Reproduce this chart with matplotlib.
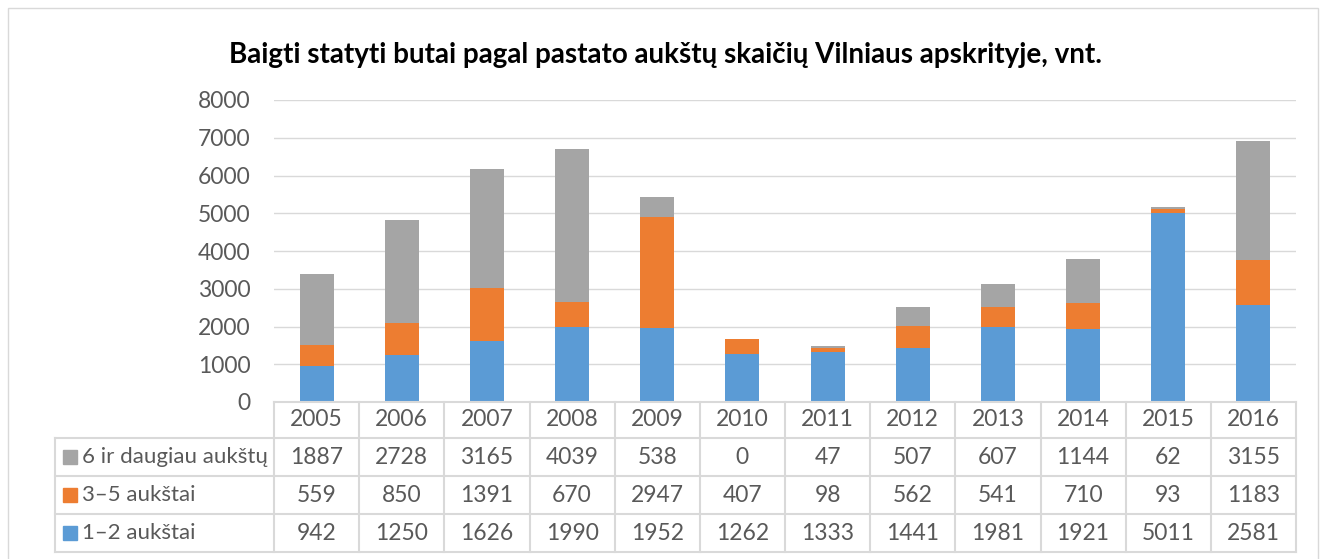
import matplotlib.pyplot as plt
import numpy as np
from matplotlib.patches import Rectangle

years = ['2005', '2006', '2007', '2008', '2009', '2010',
         '2011', '2012', '2013', '2014', '2015', '2016']
low = [942, 1250, 1626, 1990, 1952, 1262, 1333, 1441, 1981, 1921, 5011, 2581]
mid = [559, 850, 1391, 670, 2947, 407, 98, 562, 541, 710, 93, 1183]
high = [1887, 2728, 3165, 4039, 538, 0, 47, 507, 607, 1144, 62, 3155]

names = ['1–2 aukštai', '3–5 aukštai', '6 ir daugiau aukštų']
colors = ['#5B9BD5', '#ED7D31', '#A5A5A5']
yticks = [0, 1000, 2000, 3000, 4000, 5000, 6000, 7000, 8000]
title = 'Baigti statyti butai pagal pastato aukštų skaičių Vilniaus apskrityje, vnt.'

plt.rcParams['font.family'] = ['Lato', 'DejaVu Sans']
W, H = 1326, 559
txt_col = '#595959'
grid_col = '#D9D9D9'
fs = 16

fig = plt.figure(figsize=(W / 100, H / 100), dpi=100)

# figure frame
fig.patches.append(Rectangle((8 / W, -0.01), 1310 / W, 1 - 8 / H + 0.01,
                             transform=fig.transFigure, fill=False,
                             edgecolor=grid_col, lw=1))

x0, x1 = 274, 1296
ax = fig.add_axes([x0 / W, 1 - 402 / H, (x1 - x0) / W, (402 - 100) / H])
x = np.arange(len(years))
bw = 0.4
ax.bar(x, low, bw, color=colors[0], zorder=3)
ax.bar(x, mid, bw, bottom=low, color=colors[1], zorder=3)
ax.bar(x, high, bw, bottom=np.array(low) + np.array(mid), color=colors[2], zorder=3)
ax.set_xlim(-0.5, len(years) - 0.5)
ax.set_ylim(0, 8000)
ax.set_yticks(yticks)
ax.set_yticklabels([str(v) for v in yticks])
ax.tick_params(axis='y', length=0, labelsize=fs + 0.5, labelcolor=txt_col, pad=17)
ax.set_xticks([])
ax.grid(axis='y', color=grid_col, lw=1, zorder=0)
for s in ax.spines.values():
    s.set_visible(False)
fig.text(0.5 * (233 + 1098) / W, 1 - 55 / H, title, ha='center', va='center',
         fontsize=20, fontweight='bold', color='black')

# data table below the bars
tab = fig.add_axes([x0 / W, 1 - 552 / H, (x1 - x0) / W, 150 / H])
tab.set_xlim(-0.5, len(years) - 0.5)
tab.set_ylim(150, 0)
tab.axis('off')
unit = (x1 - x0) / len(years)
xl = -0.5 - (274 - 55) / unit
edges = [0, 36, 74, 112, 150]
lk = dict(color=grid_col, lw=1.5, clip_on=False)
for e in edges:
    tab.plot([xl if e > 0 else -0.5, len(years) - 0.5], [e, e], **lk)
for i in range(len(years) + 1):
    tab.plot([i - 0.5, i - 0.5], [0, 150], **lk)
tab.plot([xl, xl], [36, 150], **lk)

for i, yr in enumerate(years):
    tab.text(i, 18, yr, ha='center', va='center', fontsize=fs + 0.5, color=txt_col)
rows = [(names[2], colors[2], high), (names[1], colors[1], mid), (names[0], colors[0], low)]
for r, (nm, c, vals) in enumerate(rows):
    yc = (edges[r + 1] + edges[r + 2]) / 2
    sq = 14 / unit
    tab.add_patch(Rectangle((xl + 8 / unit, yc - 7), sq, 14, color=c, clip_on=False))
    tab.text(xl + 27 / unit, yc, nm, ha='left', va='center', fontsize=fs, color=txt_col)
    for i, v in enumerate(vals):
        tab.text(i, yc, str(v), ha='center', va='center', fontsize=fs + 0.5, color=txt_col)

fig.savefig('out.png', dpi=100)
